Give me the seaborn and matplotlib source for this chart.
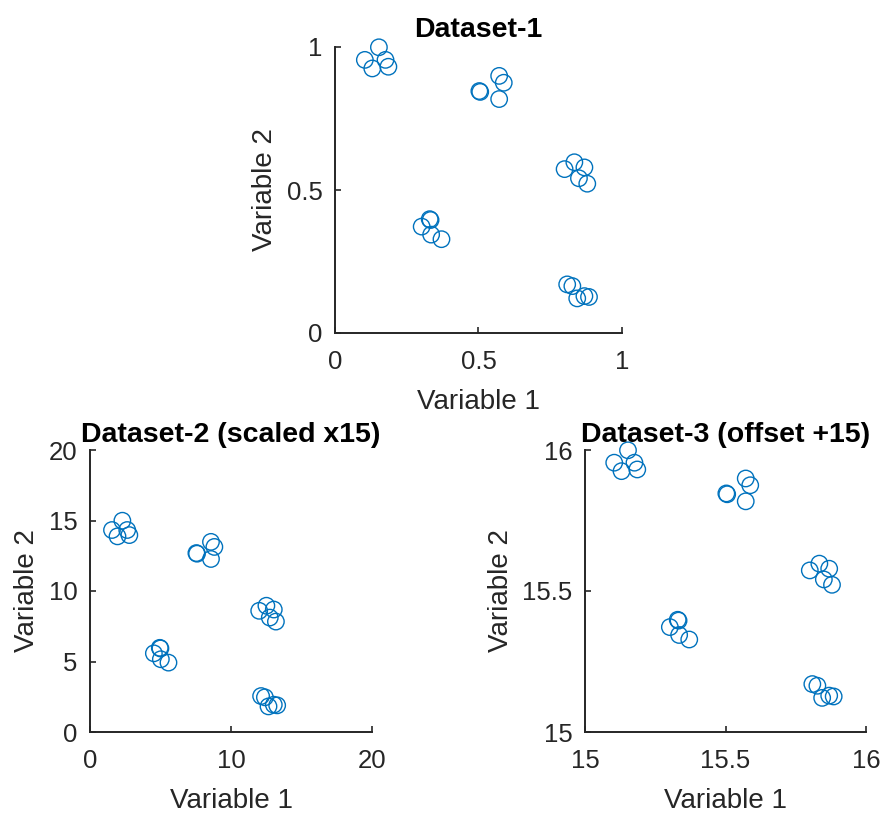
import matplotlib
matplotlib.use("Agg")
import matplotlib.pyplot as plt
import seaborn as sns
import numpy as np
import pandas as pd

# Base data (Dataset-1)
var1 = [0.153, 0.104, 0.130, 0.176, 0.186,
        0.503, 0.506, 0.572, 0.588, 0.572,
        0.800, 0.834, 0.869, 0.850, 0.879,
        0.330, 0.333, 0.302, 0.335, 0.371,
        0.809, 0.827, 0.844, 0.869, 0.885]
var2 = [0.999, 0.955, 0.925, 0.955, 0.931,
        0.846, 0.843, 0.899, 0.875, 0.818,
        0.573, 0.597, 0.579, 0.541, 0.522,
        0.398, 0.395, 0.372, 0.344, 0.328,
        0.170, 0.164, 0.121, 0.129, 0.126]

scale = 15
offset = 15

titles = ["Dataset-1", "Dataset-2 (scaled x15)", "Dataset-3 (offset +15)"]
x_ticks = [[0, 0.5, 1], [0, 10, 20], [15, 15.5, 16]]
y_ticks = [[0, 0.5, 1], [0, 5, 10, 15, 20], [15, 15.5, 16]]
x_ticklabels = [["0", "0.5", "1"], ["0", "10", "20"], ["15", "15.5", "16"]]
y_ticklabels = [["0", "0.5", "1"], ["0", "5", "10", "15", "20"], ["15", "15.5", "16"]]

b1 = np.array(var1)
b2 = np.array(var2)
datasets = [
    pd.DataFrame({"v1": b1, "v2": b2}),
    pd.DataFrame({"v1": b1 * scale, "v2": b2 * scale}),
    pd.DataFrame({"v1": b1 + offset, "v2": b2 + offset}),
]

sns.set_theme(style="white")
plt.rcParams["font.family"] = ["Liberation Sans", "DejaVu Sans"]

W, H = 883, 814
fig = plt.figure(figsize=(W / 100, H / 100), dpi=100)

rects = [
    (335, 47, 622, 333),
    (90, 450, 372, 732),
    (585, 450, 866, 732),
]
title_pads = [7, 6, 6]

edge = "#262626"
blue = "#0072BD"

for i, (l, t, r, b) in enumerate(rects):
    ax = fig.add_axes([l / W, (H - b) / H, (r - l) / W, (b - t) / H])
    sns.scatterplot(data=datasets[i], x="v1", y="v2", ax=ax, marker="o",
                    s=140, facecolors="none", edgecolor=blue, linewidth=1.0,
                    legend=False)
    ax.set_xlim(x_ticks[i][0], x_ticks[i][-1])
    ax.set_ylim(y_ticks[i][0], y_ticks[i][-1])
    ax.set_xticks(x_ticks[i])
    ax.set_xticklabels(x_ticklabels[i])
    ax.set_yticks(y_ticks[i])
    ax.set_yticklabels(y_ticklabels[i])
    for side in ["top", "right"]:
        ax.spines[side].set_visible(False)
    for side in ["left", "bottom"]:
        ax.spines[side].set_color(edge)
        ax.spines[side].set_linewidth(1.4)
    ax.tick_params(direction="in", length=4, width=1.2, colors=edge,
                   labelsize=18.5, labelcolor=edge,
                   left=True, bottom=True)
    ax.tick_params(axis="x", pad=12)
    ax.tick_params(axis="y", pad=9)
    ax.set_xlabel("Variable 1", fontsize=20, color=edge, labelpad=11)
    ax.set_ylabel("Variable 2", fontsize=20, color=edge, labelpad=6)
    ax.set_title(titles[i], fontsize=20.5, fontweight="bold", color="black",
                 pad=title_pads[i])
    ax.set_facecolor("white")
    for c in ax.collections:
        c.set_clip_on(False)

fig.savefig("out.png", dpi=100, facecolor="white")
